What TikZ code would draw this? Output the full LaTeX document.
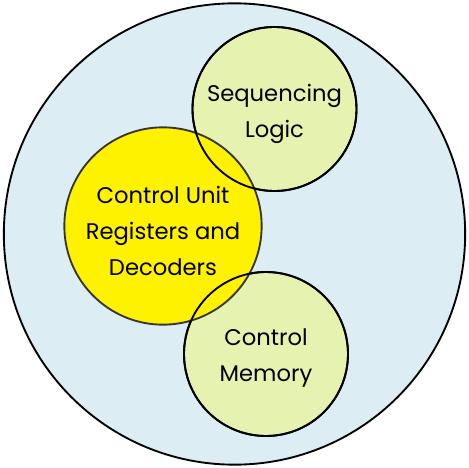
\documentclass[tikz,border=0pt]{standalone}
\usepackage{fontspec}
\setmainfont{Poppins}
\usepackage{tikz}
\usetikzlibrary{positioning}
\usepackage{xcolor}
\definecolor{sky}{HTML}{DCEEF4}
\definecolor{lime}{HTML}{E6F2B0}

\begin{document}
\begin{tikzpicture}[x=0.75pt, y=-0.75pt, font=\fontsize{17}{27}\selectfont,
  ring/.style={circle, draw, line width=1.4pt, inner sep=0pt},
  part/.style={ring, fill=lime, minimum size=123pt},
  edge/.style={circle, draw, line width=1.4pt, inner sep=0pt, minimum size=123pt},
  txt/.style={align=center, inner sep=0pt},
]
  \useasboundingbox (0,0) rectangle (469,468);
  \node[ring, fill=sky, minimum size=346pt] (outer) at (234.5,234) {};
  \node[part] (seq) at (274.5,109) {};
  \node[part] (mem) at (266,354) {};
  \node[ring, fill=yellow, draw=black!90!yellow, minimum size=148pt] (cu) at (163,226) {};
  % outlines of the two small circles go over the yellow one
  \node[edge] (seqb) at (seq.center) {};
  \node[edge] (memb) at (mem.center) {};
  \node[txt] (seqt) at ([yshift=-4pt]seq.center) {Sequencing\\Logic};
  \node[txt] (memt) at ([yshift=-3pt]mem.center) {Control\\Memory};
  \node[txt] (cut) at ([yshift=-4pt]cu.center) {Control Unit\\Registers and\\Decoders};
\end{tikzpicture}
\end{document}
